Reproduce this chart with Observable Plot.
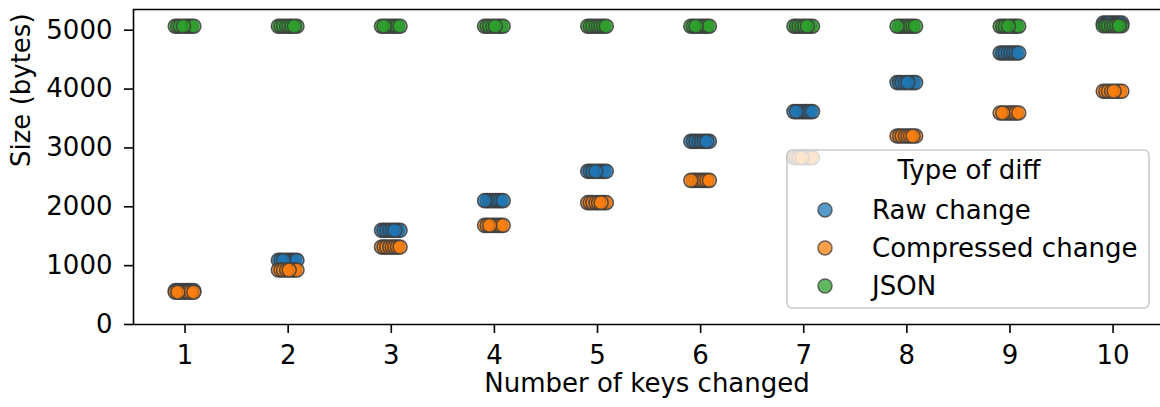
<!DOCTYPE html>
<html>
<head>
<meta charset="utf-8">
<script src="https://cdn.jsdelivr.net/npm/d3@7"></script>
<script src="https://cdn.jsdelivr.net/npm/@observablehq/plot@0.6"></script>
<style>
  html, body { margin: 0; padding: 0; background: #fff; }
  #wrap { position: relative; width: 1160px; height: 407px; font-family: "DejaVu Sans", sans-serif; }
  #legend { position: absolute; left: 786px; top: 149px; }
</style>
</head>
<body>
<div id="wrap"></div>
<script>
// ---- data ----
const keys = [1, 2, 3, 4, 5, 6, 7, 8, 9, 10];
const types = ["Raw change", "Compressed change", "JSON"];
const colors = ["#1f77b4", "#ff7f0e", "#2ca02c"];
const rawChange = [575, 1090, 1600, 2104, 2602, 3112, 3617, 4110, 4614, 5120];
const compressedChange = [549, 925, 1315, 1684, 2070, 2449, 2835, 3202, 3594, 3963];
const jsonSize = [5068, 5068, 5068, 5068, 5068, 5068, 5068, 5068, 5068, 5075];
const jitter = [-0.095, -0.07, -0.045, -0.015, 0.01, 0.035, 0.06, 0.085];
const yTicks = [0, 1000, 2000, 3000, 4000, 5000];
const xLabel = "Number of keys changed";
const yLabel = "Size (bytes)";
const legendTitle = "Type of diff";

const series = [rawChange, compressedChange, jsonSize];
const rows = [];
keys.forEach((k, g) => {
  types.forEach((type, t) => {
    jitter.forEach((_, i) => {
      rows.push({k, type, value: series[t][g], j: jitter[(i + 3 * g + 2 * t) % jitter.length]});
    });
  });
});

const FS = 26;
const yMax = 5352;
const chart = Plot.plot({
  width: 1160,
  height: 407,
  marginLeft: 133,
  marginRight: 0,
  marginTop: 9,
  marginBottom: 83,
  style: {fontFamily: "DejaVu Sans", fontSize: FS + "px", color: "#000", background: "#fff", overflow: "visible"},
  x: {type: "linear", domain: [0.5, 10.46]},
  y: {domain: [0, yMax]},
  color: {domain: types, range: colors},
  marks: [
    Plot.dot(rows, {
      x: d => d.k + d.j, y: "value", fill: "type", r: 7,
      fillOpacity: 0.75, stroke: "#3d3d3d", strokeOpacity: 0.85, strokeWidth: 1.6
    }),
    Plot.axisX({ticks: keys, tickFormat: d => String(d), tickSize: 9, tickPadding: 12, strokeWidth: 1.6, fontSize: FS, label: null}),
    Plot.axisY({ticks: yTicks, tickFormat: d => String(d), tickSize: 9, tickPadding: 12, strokeWidth: 1.6, fontSize: FS, label: null}),
    Plot.ruleX([0.5], {strokeWidth: 1.6, stroke: "#000"}),
    Plot.ruleY([0], {strokeWidth: 1.6, stroke: "#000"}),
    Plot.ruleY([yMax], {strokeWidth: 1.6, stroke: "#000"}),
    Plot.text([xLabel], {text: d => d, frameAnchor: "bottom", dy: 67, fontSize: FS, fill: "#000"}),
    Plot.text([yLabel], {text: d => d, frameAnchor: "left", rotate: -90, dx: -112, fontSize: FS, fill: "#000"})
  ]
});
document.getElementById("wrap").appendChild(chart);

// ---- legend (matplotlib-style box) ----
const lw = 364, lh = 160;
const leg = d3.create("svg").attr("id", "legend").attr("width", lw).attr("height", lh)
  .style("font-family", "DejaVu Sans").style("font-size", FS + "px");
leg.append("rect").attr("x", 1).attr("y", 1).attr("width", lw - 2).attr("height", lh - 2)
  .attr("rx", 5).attr("fill", "#fff").attr("fill-opacity", 0.8)
  .attr("stroke", "#cccccc").attr("stroke-width", 1.6);
leg.append("text").attr("x", 183).attr("y", 21).attr("dy", "0.35em")
  .attr("text-anchor", "middle").attr("fill", "#000").text(legendTitle);
types.forEach((t, i) => {
  const cy = 61 + i * 38;
  leg.append("circle").attr("cx", 39).attr("cy", cy).attr("r", 7)
    .attr("fill", colors[i]).attr("fill-opacity", 0.75)
    .attr("stroke", "#3d3d3d").attr("stroke-opacity", 0.75).attr("stroke-width", 1.5);
  leg.append("text").attr("x", 86).attr("y", cy).attr("dy", "0.35em").attr("fill", "#000").text(t);
});
document.getElementById("wrap").appendChild(leg.node());
</script>
</body>
</html>
